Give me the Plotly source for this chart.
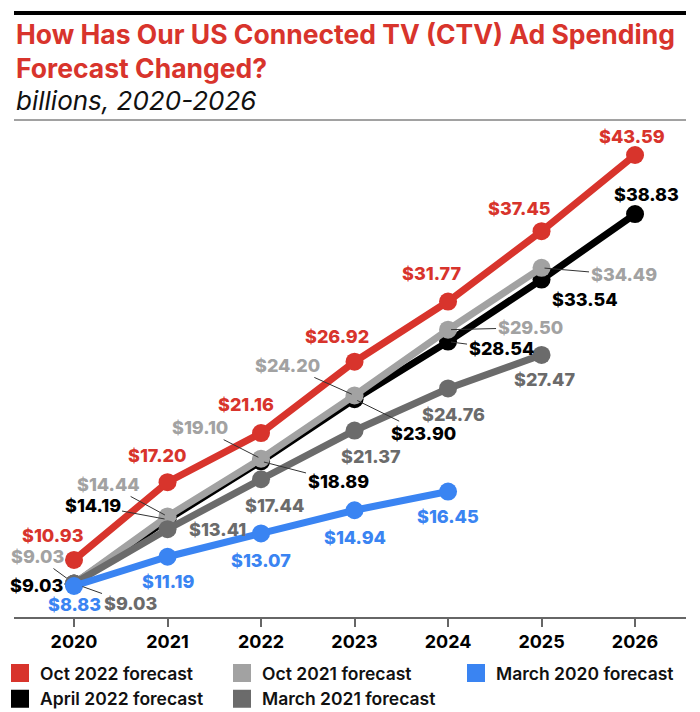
import plotly.graph_objects as go

# ---------------- data ----------------
years = [2020, 2021, 2022, 2023, 2024, 2025, 2026]
oct2022 = [10.93, 17.20, 21.16, 26.92, 31.77, 37.45, 43.59]
apr2022 = [9.03, 14.19, 18.89, 23.90, 28.54, 33.54, 38.83]
oct2021 = [9.03, 14.44, 19.10, 24.20, 29.50, 34.49]
mar2021 = [9.03, 13.41, 17.44, 21.37, 24.76, 27.47]
mar2020 = [8.83, 11.19, 13.07, 14.94, 16.45]
names = ["Oct 2022 forecast", "April 2022 forecast", "Oct 2021 forecast",
         "March 2021 forecast", "March 2020 forecast"]
title_lines = ["How Has Our US Connected TV (CTV) Ad Spending", "Forecast Changed?"]
subtitle = "billions, 2020-2026"

# ---------------- styles ----------------
RED = "#d8342c"
BLACK = "#000000"
LGRAY = "#a2a2a2"
DGRAY = "#6b6b6b"
BLUE = "#3a84f2"
FONT = "Inter"

# label offsets in pixels (dx, dy screen-down), callout flag
off_red = [(-21, -24, 0), (-11, -27, 0), (-15, -29, 0), (-18, -25, 0), (-17, -28, 0), (-22, -23, 0), (-3, -19, 0)]
off_black = [(-38, 2, 1), (-75, -14, 1), (77, 20, 1), (69, 34, 1), (53, 7, 1), (43, 20, 0), (11, -20, 0)]
off_lgray = [(-37, -27, 1), (-59, -32, 1), (-61, -31, 1), (-67, -30, 1), (82, -2, 1), (82, 7, 1)]
off_dgray = [(56, 20, 1), (50, 0, 0), (13, 26, 0), (16, 26, 0), (5, 26, 0), (3, 25, 0)]
off_blue = [(0, 18, 0), (0, 25, 0), (0, 27, 0), (0, 27, 0), (0, 25, 0)]

series = [
    (names[1], apr2022, BLACK, off_black),
    (names[2], oct2021, LGRAY, off_lgray),
    (names[3], mar2021, DGRAY, off_dgray),
    (names[0], oct2022, RED, off_red),
    (names[4], mar2020, BLUE, off_blue),
]

fig = go.Figure()
for name, vals, col, offs in series:
    fig.add_trace(go.Scatter(
        x=years[:len(vals)], y=vals, mode="lines+markers", name=name,
        line=dict(color=col, width=7), marker=dict(color=col, size=18),
        showlegend=False, hoverinfo="skip"))

# legend entries (square swatches)
legend_order = [(names[0], RED, "legend"), (names[1], BLACK, "legend"),
                (names[2], LGRAY, "legend2"), (names[3], DGRAY, "legend2"),
                (names[4], BLUE, "legend3")]
for name, col, lg in legend_order:
    fig.add_trace(go.Scatter(
        x=[None], y=[None], mode="markers", name=name, legend=lg,
        marker=dict(symbol="square", size=16, color=col, line=dict(color=col, width=2))))

LBL = 18
annotations = []
for name, vals, col, offs in series:
    for yr, v, (dx, dy, co) in zip(years, vals, offs):
        txt = "$%.2f" % v
        fnt = dict(family=FONT, size=LBL, color=col, weight=800)
        if co:
            annotations.append(dict(
                x=yr, y=v, xref="x", yref="y", text=txt, showarrow=True,
                ax=dx, ay=dy, axref="pixel", ayref="pixel",
                arrowhead=0, arrowwidth=1, arrowcolor="#333333",
                standoff=9 if yr == 2020 else 3, font=fnt))
        else:
            annotations.append(dict(
                x=yr, y=v, xref="x", yref="y", text=txt, showarrow=False,
                xshift=dx, yshift=-dy, font=fnt))

# plot area: x 14..686 px, y 125..617 px
W, HGT = 700, 712
PT, PB = 125, 617
H = PB - PT
def py(p):
    return (PB - p) / H

annotations.append(dict(
    x=0, y=py(16), xref="paper", yref="paper", xanchor="left", yanchor="top",
    align="left", showarrow=False,
    text="<br>".join(title_lines),
    font=dict(family=FONT, size=26.5, color=RED, weight=700)))
annotations.append(dict(
    x=0, y=py(83), xref="paper", yref="paper", xanchor="left", yanchor="top",
    align="left", showarrow=False, text=subtitle,
    font=dict(family=FONT, size=26, color="#111111", style="italic")))

shapes = [
    dict(type="line", xref="paper", yref="paper", x0=0, x1=1, y0=py(13), y1=py(13),
         line=dict(color="#000000", width=4)),
    dict(type="line", xref="paper", yref="paper", x0=0, x1=1, y0=py(120), y1=py(120),
         line=dict(color="#444444", width=1)),
]

legend_font = dict(family=FONT, size=17.5, color="#111111", weight=600)
def lgd(px_left):
    return dict(x=(px_left - 14) / 672, xref="paper",
                y=(HGT - 655) / HGT, yref="container",
                xanchor="left", yanchor="top",
                orientation="v", font=legend_font, tracegroupgap=0,
                bgcolor="rgba(0,0,0,0)", borderwidth=0, itemclick=False)

fig.update_layout(
    width=W, height=HGT,
    margin=dict(l=14, r=14, t=PT, b=HGT - PB, pad=0, autoexpand=False),
    paper_bgcolor="white", plot_bgcolor="white",
    showlegend=True,
    legend=lgd(0), legend2=lgd(222), legend3=lgd(456),
    xaxis=dict(range=[2019.358, 2026.545], tickvals=years,
               ticktext=[str(y) for y in years],
               showgrid=False, zeroline=False, showline=True,
               linecolor="#666666", linewidth=1.5,
               ticks="outside", ticklen=8, tickwidth=1.5, tickcolor="#666666",
               tickfont=dict(family=FONT, size=18, color="#000000", weight=700),
               fixedrange=True),
    yaxis=dict(range=[6.33, 46.01], visible=False, showgrid=False, zeroline=False,
               fixedrange=True),
    annotations=annotations, shapes=shapes,
    hovermode=False,
)

fig.write_html("out.html")
